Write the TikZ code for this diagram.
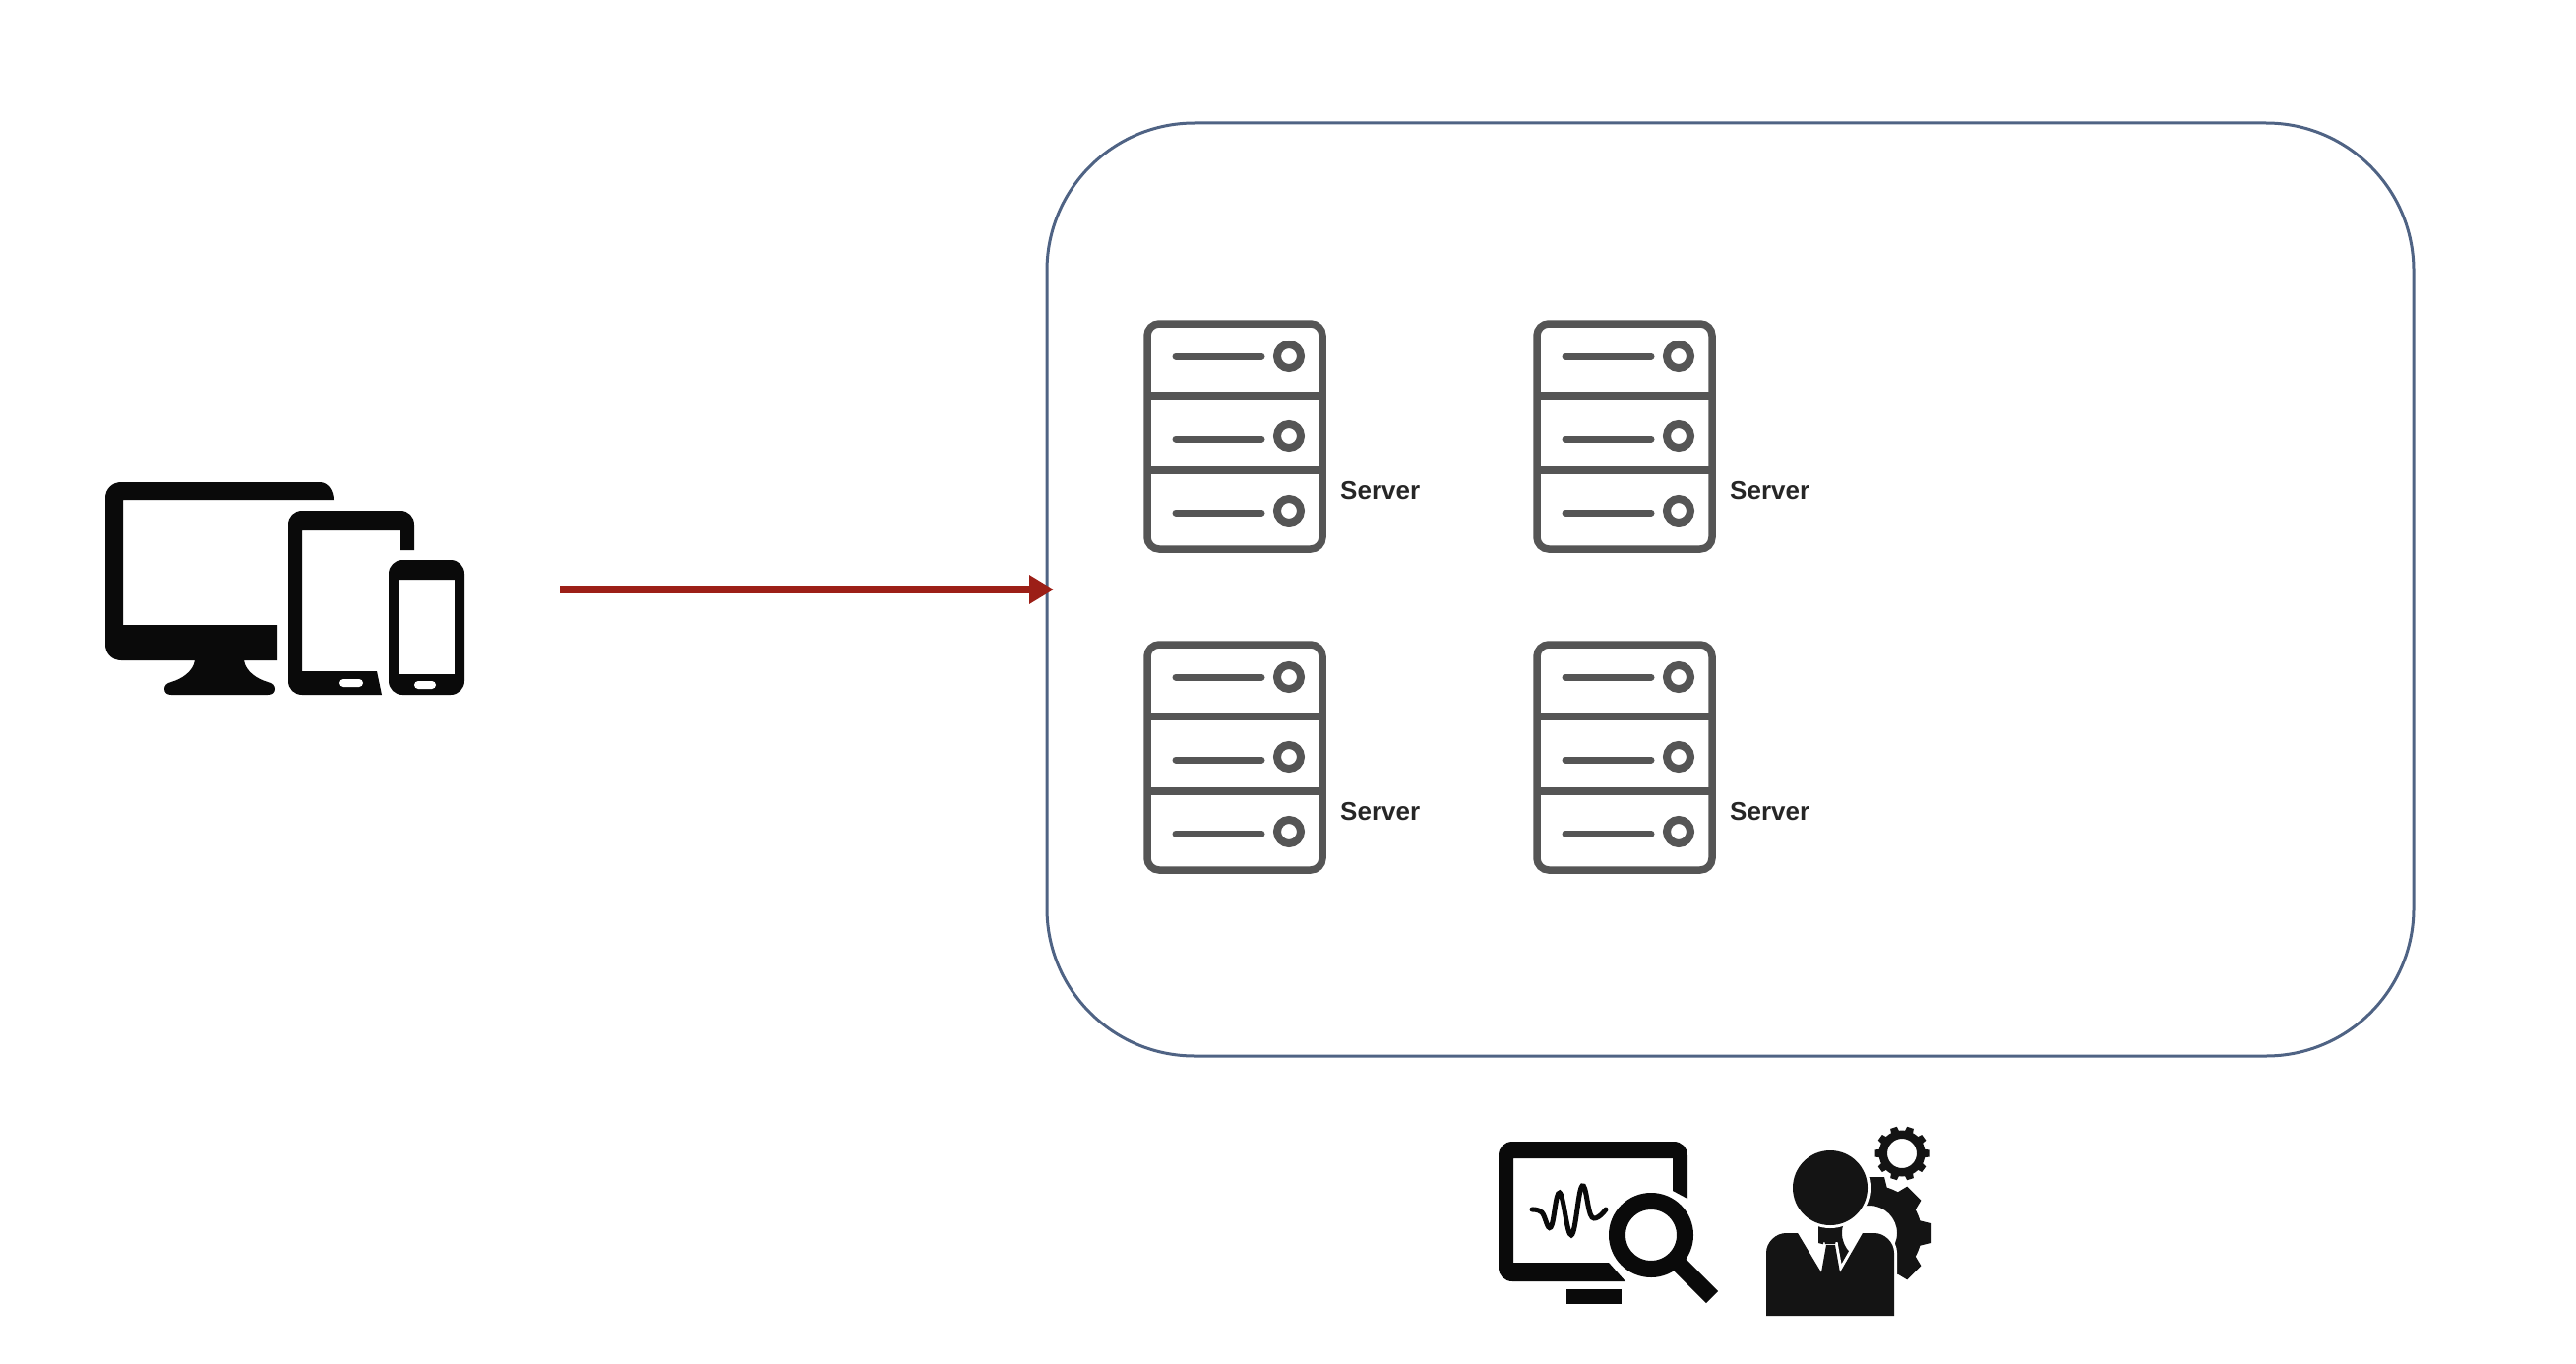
\documentclass[tikz,border=0pt]{standalone}
\usepackage{fontspec}
\setmainfont{Liberation Sans}
\usepackage{tikz}
\usetikzlibrary{arrows.meta, positioning}

\definecolor{iconblack}{HTML}{0A0A0A}
\definecolor{personblack}{HTML}{141414}
\definecolor{servergrey}{HTML}{555555}
\definecolor{clusterblue}{HTML}{4F6384}
\definecolor{arrowred}{HTML}{9C1F17}

\begin{document}
\begin{tikzpicture}[
    x=1pt, y=-1pt,
    cluster/.style={draw=clusterblue, line width=3pt, rounded corners=150pt, minimum width=1389pt, minimum height=948pt, inner sep=0pt, outer sep=0pt},
    flow/.style={draw=arrowred, line width=8pt, -{Triangle[length=25pt,width=28pt]}, shorten >=-7pt},
    label/.style={anchor=west, inner sep=0pt, text=black!85, font=\fontsize{26}{30}\selectfont\bfseries},
    halo/.style={preaction={draw=white, line width=6pt}},
    server/.pic={
        \draw[servergrey, line width=7.5pt, rounded corners=12pt] (0,0) rectangle (178,229);
        \draw[servergrey, line width=7.5pt] (0,73) -- (178,73) (0,149) -- (178,149);
        \draw[servergrey, line width=7pt, line cap=round] (29,33) -- (116,33) (29,117) -- (116,117) (29,192) -- (116,192);
        \draw[servergrey, line width=8pt] (144,33) circle (12) (144,114) circle (12) (144,190) circle (12);
        \node[label] (-label) at (196,170) {Server};
    }
]
\useasboundingbox (0,0) rectangle (2618,1386);

\node[cluster] (cluster) at (1758.5,599) {};
\coordinate (devices) at (569,599);
\draw[flow] (devices) -- (cluster.west);

\foreach \x/\y/\name in {1166/329/srvA, 1562/329/srvB, 1166/655/srvC, 1562/655/srvD}
    \pic (\name) at (\x,\y) {server};

% devices
\fill[iconblack] (339,508) -- (125,508) -- (125,635) -- (282,635) -- (282,671) -- (248,671)
    .. controls (250,683) and (262,690) .. (272,693) .. controls (277,694) and (279,697) .. (279,700) .. controls (279,704) and (276,706) .. (272,706)
    -- (174,706) .. controls (170,706) and (167,704) .. (167,700) .. controls (167,697) and (169,694) .. (174,693) .. controls (184,690) and (196,683) .. (198,671)
    -- (123,671) .. controls (114,671) and (107,664) .. (107,655) -- (107,506) .. controls (107,497) and (114,490) .. (123,490)
    -- (325,490) .. controls (333,490) and (339,498) .. (339,508) -- cycle;
\fill[iconblack] (421,559) -- (421,533) .. controls (421,525) and (415,519) .. (407,519) -- (307,519) .. controls (299,519) and (293,525) .. (293,533)
    -- (293,692) .. controls (293,700) and (299,706) .. (307,706) -- (388,706) -- (383,682) -- (307,682) -- (307,539) -- (407,539) -- (407,559) -- cycle;
\fill[white, rounded corners=4pt] (345,690) rectangle (369,698);
\fill[iconblack, even odd rule] [rounded corners=14pt] (395,569) rectangle (472,706) [sharp corners] (405,589) rectangle (462,685);
\fill[white, rounded corners=4pt] (421,692) rectangle (443,700);

% monitoring
\fill[iconblack] (1652,1302) -- (1537,1302) .. controls (1529,1302) and (1523,1296) .. (1523,1288) -- (1523,1174) .. controls (1523,1166) and (1529,1160) .. (1537,1160)
    -- (1701,1160) .. controls (1709,1160) and (1715,1166) .. (1715,1174) -- (1715,1218) -- (1700,1210) -- (1700,1177) -- (1538,1177) -- (1538,1283) -- (1635,1283) -- cycle;
\fill[iconblack] (1592,1310) rectangle (1648,1325);
\draw[iconblack, line width=5pt, line cap=round] plot[smooth, tension=0.7] coordinates {(1557,1229) (1567,1232) (1576,1247) (1585,1212) (1597,1255) (1608,1205) (1618,1237) (1632,1229)};
\draw[iconblack, line width=17pt] (1678,1255) circle (34.5);
\draw[iconblack, line width=17pt] (1706,1284) -- (1740,1318);

% operator
\foreach \a in {0,45,...,315}
    \fill[personblack, shift={(1905,1253)}, rotate=\a] (45,-13) -- (57,-10) -- (57,10) -- (45,13) -- cycle;
\fill[personblack, even odd rule] (1905,1253) circle (48) (1900,1253) circle (28);
\foreach \a in {0,36,...,324}
    \fill[personblack, shift={(1933,1172)}, rotate=\a] (21,-4.5) -- (27.5,-3.5) -- (27.5,3.5) -- (21,4.5) -- cycle;
\fill[personblack, even odd rule] (1933,1172) circle (23.5) (1933,1172) circle (15);
\fill[personblack, halo] (1860,1207) circle (38);
\fill[personblack, halo] (1795,1337) -- (1795,1273) .. controls (1795,1262) and (1805,1253) .. (1815,1253) -- (1827,1253) -- (1851,1293) -- (1856,1265) -- (1865,1265) -- (1870,1293) -- (1893,1253) -- (1905,1253) .. controls (1915,1253) and (1925,1262) .. (1925,1273) -- (1925,1337) -- cycle;
\fill[personblack] (1852,1254) -- (1868,1254) -- (1865,1264) -- (1855,1264) -- cycle;
\end{tikzpicture}
\end{document}
